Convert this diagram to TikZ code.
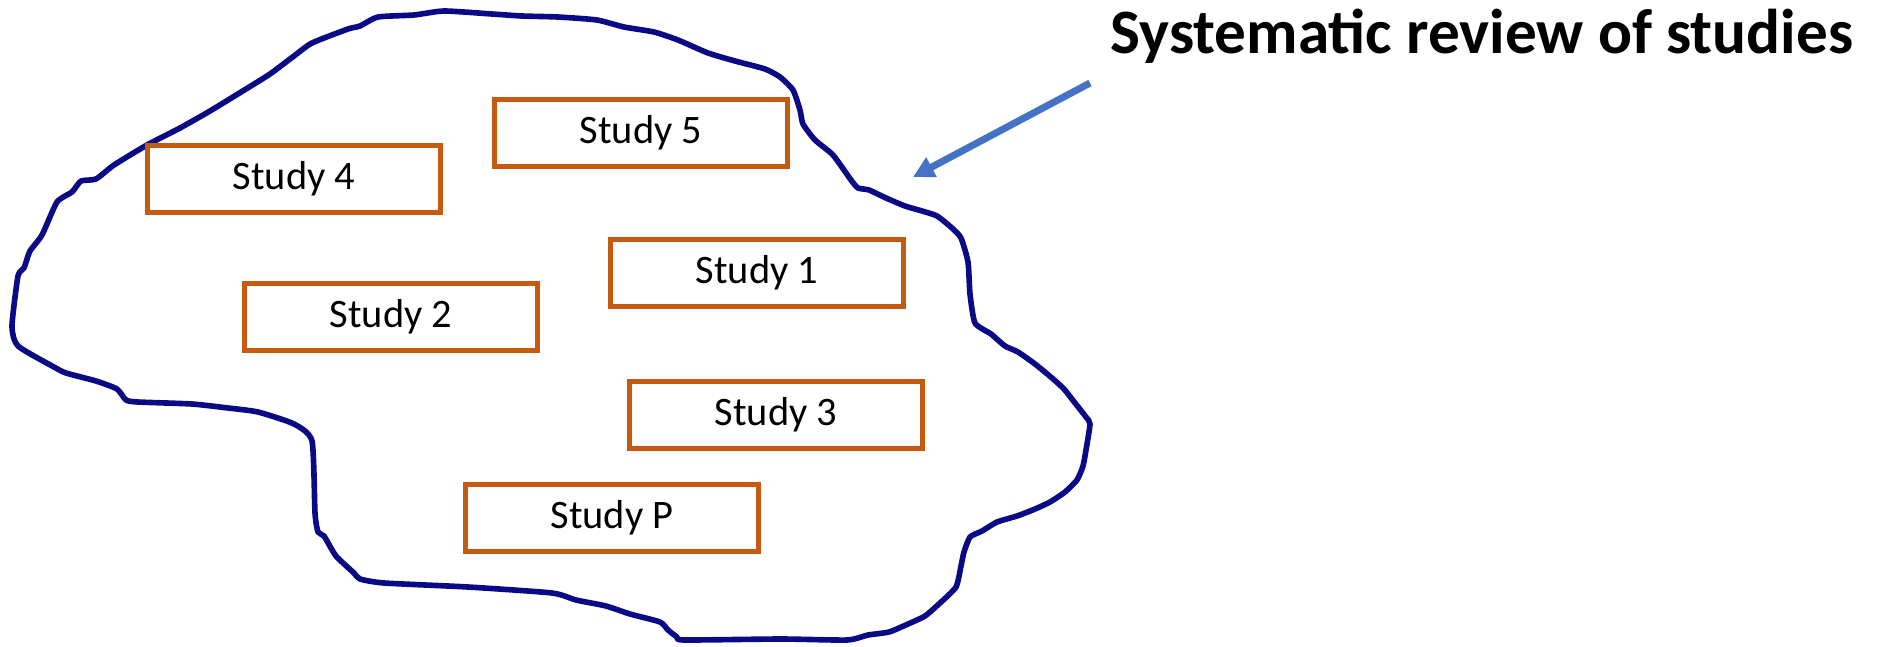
\documentclass[tikz,border=0pt]{standalone}
\usepackage{fontspec}
\setmainfont{Carlito}
\usetikzlibrary{arrows.meta}

\definecolor{blobblue}{RGB}{10,10,135}
\definecolor{studyorange}{RGB}{197,90,17}
\definecolor{arrowblue}{RGB}{68,114,196}

\begin{document}
\begin{tikzpicture}[x=0.02cm, y=-0.02cm,
		studybox/.style={draw=studyorange, line width=3.1pt, minimum width=5.86cm, minimum height=1.34cm, inner sep=0pt, font=\fontsize{23}{27}\selectfont},
		blob/.style={draw=blobblue, line width=3.2pt, line join=round}]
				\useasboundingbox (0,0) rectangle (1883,646);
				
				% Контур обзора (рисованный от руки)
				\draw[blob] plot[smooth cycle, tension=0.35] coordinates {
					(378,17) (414,15) (444,11) (492,14) (522,16) (558,17) (597,20) (624,27)
					(654,32) (678,40) (708,53) (735,61) (765,69) (780,77) (793,90) (800,110)
					(803,124) (815,140) (833,155) (851,180) (858,188) (869,190) (886,198)
					(905,206) (922,211) (937,216) (952,228) (961,238) (968,262) (970,294)
					(975,323) (991,334) (1005,346) (1018,352) (1035,364) (1052,378) (1064,389)
					(1075,403) (1086,417) (1090,424) (1086,450) (1083,466) (1077,480) (1065,492)
					(1050,502) (1035,509) (1017,516) (997,522) (982,531) (970,537) (964,552)
					(961,566) (956,587) (940,603) (925,616) (908,624) (889,632) (868,635)
					(847,640) (781,639) (684,640) (677,637) (668,630) (660,622) (630,614)
					(606,606) (576,600) (552,593) (468,587) (384,583) (360,579) (354,573)
					(336,556) (324,536) (318,532) (315,513) (312,441) (294,424) (258,412)
					(228,408) (192,404) (138,402) (126,400) (117,389) (96,381) (66,373)
					(54,367) (18,346) (12,326) (18,276) (24,268) (30,251) (42,235) (57,202)
					(72,192) (81,181) (96,179) (114,165) (147,145) (180,128) (210,111)
					(246,89) (270,74) (294,56) (312,43) (348,29) (360,26)};
				
				% Исследования
				\node[studybox] (s4) at (294,179) {Study 4};
				\node[studybox] (s5) at (641,133) {Study 5};
				\node[studybox] (s1) at (757,273) {Study 1};
				\node[studybox] (s2) at (391,317) {Study 2};
				\node[studybox] (s3) at (776,415) {Study 3};
				\node[studybox] (sP) at (612,518) {Study P};
				
				% Подпись и стрелка
				\node[anchor=base, font=\fontsize{36}{42}\selectfont\bfseries] (title) at (1482,53) {Systematic review of studies};
				\coordinate (A) at (1090,83);
				\coordinate (B) at (913,177);
				\draw[arrowblue, line width=4pt, -{Triangle[length=0.42cm, width=0.42cm]}] (A) -- (B);
			\end{tikzpicture}
\end{document}
